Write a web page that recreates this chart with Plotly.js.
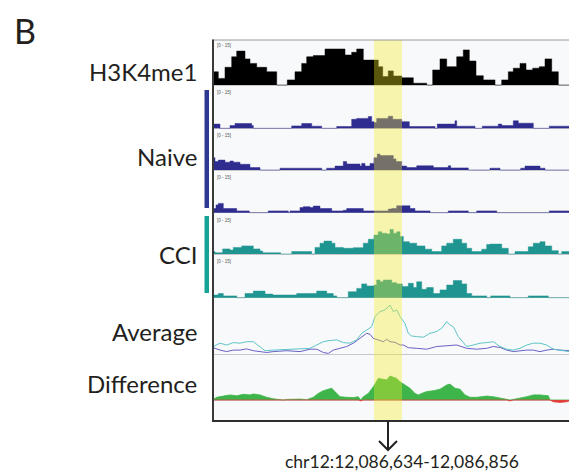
<!DOCTYPE html>
<html><head><meta charset="utf-8">
<script src="https://cdn.plot.ly/plotly-3.0.1.min.js"></script>
<style>html,body{margin:0;padding:0;background:#fff}#chart{width:569px;height:475px}</style>
</head><body><div id="chart"></div>
<script>
// ---------- DATA (positions in screen bins along the locus, values in track units) ----------
const panelLetter = "B";
const trackLabels = ["H3K4me1", "Naive", "CCI", "Average", "Difference"];
const scaleLabel = "[0 - 15]";
const regionLabel = "chr12:12,086,634-12,086,856";
const regionStart = 161;
const regionEnd = 189;
const locusEnd = 356;

const h3Pos = [0, 5.3, 12, 18.7, 23.7, 32, 37, 43.7, 53.7, 63.7, 74.3, 82, 88.7, 93.7, 100.3, 112, 132, 138.7, 143.7, 150.3, 165.3, 169.7, 175.3, 180.3, 188.7, 200.3, 213.7, 219.7, 227, 233.7, 243.7, 250.3, 256.3, 263, 270.3, 282, 288.7, 295.3, 300.3, 307, 313, 319.7, 326.3, 332, 338.7, 345.3];
const h3Val = [4.4, 2.2, 5.9, 9.4, 11.3, 8.7, 7.2, 5.9, 4.4, 0, 1.7, 4.4, 7.2, 9.4, 9.8, 12, 10, 10.9, 12, 8.3, 6.1, 2.8, 4.7, 3.0, 2.4, 0.6, 0, 5, 8.7, 6.1, 9.4, 11.7, 8.0, 3.1, 1.7, 0, 1.7, 4.4, 5.6, 7.2, 5, 5.6, 6.1, 8.7, 4.4, 0];

const naive1Pos = [0, 7, 17, 22, 38.7, 40.3, 78.7, 88.7, 98.7, 108.7, 123.7, 138.7, 143.7, 155.3, 158.7, 161, 163.7, 175.3, 179.7, 188.7, 196.3, 222, 224.3, 242, 243.7, 262, 269.3, 285.3, 288.7, 300.3, 305.3, 320.3, 336.3];
const naive1Val = [1.4, 0, 0.9, 1.6, 0.9, 0, 0.8, 1.6, 0.7, 0, 0.6, 3.0, 3.3, 3.9, 2.2, 1.9, 3.3, 4.0, 3.0, 2.2, 0.6, 0, 1.4, 2.5, 0.7, 0, 0.7, 1.4, 0.9, 2.5, 1.7, 0, 0.7];

const naive2Pos = [0, 2, 5.3, 12, 17, 20.3, 27, 37, 47, 67, 108.7, 113.7, 122, 130.3, 133.7, 147, 148.7, 152, 157, 161, 164.3, 167, 180.3, 183, 188.7, 193.7, 203.7, 220.3, 235.3, 237.7, 255.3, 277, 287, 307.7, 312, 327, 332];
const naive2Val = [4.1, 2.8, 3.3, 2.6, 3.0, 2.6, 1.9, 0.8, 0, 0.6, 0, 0.6, 1.3, 2.8, 2.0, 1.3, 2.2, 1.3, 2.2, 4.1, 5.3, 4.8, 3.7, 2.8, 1.3, 0.8, 1.4, 0.8, 1.4, 0.7, 0, 0.6, 0, 0.6, 1.3, 0.6, 0];

const naive3Pos = [0, 3, 5.3, 10.3, 23.7, 36.3, 55.3, 75.3, 77, 87, 90.3, 97, 100.3, 107, 118.7, 130.3, 133.7, 150.3, 175.3, 178.7, 183.7, 197, 202, 217, 235.3, 255.3, 263.7, 283.7, 336.3];
const naive3Val = [1.4, 2.6, 3.1, 1.4, 0.6, 0, 0.6, 0, 0.6, 1.7, 2.0, 1.7, 2.2, 1.4, 0.6, 0.8, 1.4, 0.6, 1.2, 1.4, 2.3, 1.4, 0.6, 0, 0.6, 0, 0.6, 0, 0.6];

const cci1Pos = [0, 2, 9.7, 17, 20.3, 28.7, 40.3, 47, 49.7, 67.7, 78.7, 98.7, 102, 107, 111, 118.7, 122, 130.3, 140.3, 150.3, 155.3, 161, 165.3, 168.7, 173.7, 177, 180.3, 183.7, 187, 190.3, 196.3, 203.7, 212, 218.7, 228.7, 233.7, 240.3, 248.7, 253.7, 258.7, 268.7, 273.7, 277, 288.7, 295.3, 302, 315.3, 320.3, 327, 332, 338.7, 345.3, 348.7];
const cci1Val = [0.8, 0.4, 1.7, 1.3, 2.2, 2.7, 1.7, 1.0, 0.4, 0, 0.8, 0, 2.2, 3.6, 4.3, 3.6, 2.2, 1.9, 2.1, 3.6, 4.9, 6.3, 7.4, 6.9, 6.7, 8.2, 6.9, 7.4, 5.8, 4.1, 3.6, 2.7, 1.6, 0.8, 2.7, 3.6, 4.9, 3.6, 1.9, 0.8, 1.6, 3.2, 3.3, 1.9, 0, 0.8, 2.4, 3.6, 4.1, 2.7, 1.1, 0, 0.8];

const cci2Pos = [0, 5.3, 10.3, 23.7, 32, 40.3, 52, 59.7, 83.7, 103.7, 113.7, 120.3, 123.7, 135.3, 143.7, 148.7, 153.7, 161, 163.7, 167, 170.3, 178.7, 183.7, 189.3, 195.3, 200.3, 203.7, 208.7, 213.7, 220.3, 227, 233.7, 240.3, 248.7, 253.7, 258.7, 273.7, 277.7, 297, 315.3, 335.3];
const cci2Val = [0.9, 1.4, 0.6, 0, 1.4, 2.2, 1.2, 0.9, 1.4, 2.2, 1.4, 0.6, 0, 2.0, 3.1, 4.6, 3.9, 4.2, 5.9, 5.3, 5.9, 5.0, 4.6, 3.7, 4.8, 3.4, 5.3, 2.8, 3.4, 1.4, 2.6, 4.2, 5.7, 4.6, 1.4, 0.6, 0, 0.6, 0, 0.6, 0];

const avgCciPos = [0.3, 7, 13.7, 20.3, 27, 33.7, 40.3, 47, 52, 60.3, 73.7, 87, 97, 103.7, 110.3, 117, 123.7, 130.3, 137, 143.7, 148.7, 153.7, 158.7, 162, 167, 172, 177, 180.3, 183.7, 187, 192, 195.3, 198.7, 203.7, 210.3, 217, 223.7, 228.7, 233.7, 237, 240.3, 245.3, 250.3, 253.7, 260.3, 267, 273.7, 280.3, 287, 293.7, 300.3, 307, 313.7, 320.3, 327, 333.7, 340.3, 347, 356];
const avgCciVal = [2.6, 3.7, 3.1, 3.9, 3.7, 4.2, 4.2, 2.6, 1.2, 1.4, 1.7, 2.0, 2.0, 3.1, 4.2, 4.6, 4.8, 3.9, 3.7, 4.8, 7.0, 8.1, 9.2, 12.6, 14.2, 14.8, 16.4, 14.2, 14.8, 12.6, 10.3, 7.0, 6.1, 5.9, 5.7, 7.0, 7.6, 8.7, 10.9, 9.8, 9.2, 5.9, 3.7, 2.6, 3.1, 3.7, 3.9, 4.2, 2.6, 1.7, 1.4, 2.0, 3.1, 3.7, 3.7, 3.1, 1.7, 1.4, 0.9];

const avgNaivePos = [0.3, 7, 13.7, 20.3, 27, 33.7, 40.3, 47, 53.7, 60.3, 73.7, 87, 97, 103.7, 110.3, 115.3, 120.3, 127, 133.7, 140.3, 147, 153.7, 157, 160.3, 165.3, 170.3, 173.7, 177, 182, 187, 190.3, 195.3, 203.7, 213.7, 223.7, 233.7, 243.7, 253.7, 263.7, 273.7, 280.3, 287, 293.7, 300.3, 307, 313.7, 320.3, 327, 333.7, 340.3, 347, 356];
const avgNaiveVal = [2.2, 1.4, 0.9, 1.4, 1.4, 1.8, 1.2, 0.9, 0.6, 0.9, 1.2, 0.9, 1.7, 1.7, 0.6, 0.3, 1.4, 2.0, 2.6, 3.7, 5.3, 7.0, 6.7, 5.3, 4.8, 4.2, 5.0, 4.2, 4.0, 3.1, 3.1, 2.2, 2.0, 1.7, 2.6, 2.9, 3.1, 2.0, 1.7, 2.0, 2.6, 2.3, 1.4, 0.9, 1.2, 1.4, 1.4, 0.9, 1.4, 1.7, 1.4, 1.2];

const diffPos = [0.3, 3.7, 10.3, 17, 23.7, 30.3, 37, 40.3, 47, 53.7, 60.3, 67, 70.3, 73.7, 80.3, 87, 93.7, 100.3, 105.3, 110.3, 115.3, 118.7, 122, 127, 133.7, 140.3, 145.3, 147.7, 150.3, 155.3, 160.3, 165.3, 170.3, 173.7, 177, 180.3, 183.7, 187, 192, 197, 202, 205.3, 208.7, 213.7, 220.3, 227, 233.7, 237, 242, 247, 252, 257, 263.7, 273.7, 280.3, 287, 293.7, 297, 300.3, 307, 313.7, 320.3, 327, 335.3, 337, 340.3, 347, 353.7, 356];
const diffVal = [0.2, 0.9, 1.3, 1.7, 1.4, 1.9, 1.7, 2.0, 1.7, 0.9, 0.4, 0.2, -0.2, 0.2, 0.3, 0.3, 0.1, 0.9, 2.2, 3.1, 3.6, 3.9, 2.8, 1.1, 0.9, 0.8, 1.1, -0.3, 1.1, 2.2, 4.4, 7.2, 6.9, 6.7, 8.0, 7.6, 7.2, 6.1, 5.0, 3.9, 2.2, 1.7, 2.2, 2.8, 3.1, 3.6, 5.0, 5.3, 3.9, 3.6, 1.7, 0.9, 0.9, 1.3, 1.1, 0.6, 0.3, -0.3, 0.2, 0.6, 1.1, 1.7, 1.7, 1.4, 0, -0.6, -0.8, -0.6, -0.3];

// ---------- STYLE / GEOMETRY ----------
const W = 569, H = 475, PX_PER_UNIT = 3, PANEL_LEFT = 213;
const fx = p => p / W, fy = p => 1 - p / H;
const C = {black: '#000000', naive: '#2e2d8f', cci: '#1e9591', avgCci: '#5ec5c8', avgNaive: '#6a5fc6',
  diffPos: '#3db54a', diffNeg: '#e0403a', text: '#231f20'};
// track geometry in px: top, baseline, bottom
const tracks = [
  {top: 40, base: 85, bottom: 86.5},
  {top: 86.5, base: 128.3, bottom: 130},
  {top: 130, base: 170, bottom: 172},
  {top: 172, base: 212.7, bottom: 214.5},
  {top: 214.5, base: 254, bottom: 256},
  {top: 256, base: 297.7, bottom: 299.5},
  {top: 299.5, base: 354.3, bottom: 356},
  {top: 356, base: 400, bottom: 421}
];

const layout = {
  width: W, height: H, margin: {l: 0, r: 0, t: 0, b: 0},
  paper_bgcolor: '#ffffff', plot_bgcolor: '#f8f9fa', showlegend: false,
  font: {family: 'Lato, "Open Sans", sans-serif', color: C.text},
  xaxis: {domain: [fx(PANEL_LEFT), 1], range: [0, locusEnd], anchor: 'y8', showticklabels: false,
    showgrid: false, zeroline: false, showline: false, ticks: '', fixedrange: true},
  shapes: [], annotations: []
};
tracks.forEach((t, i) => {
  const key = i === 0 ? 'yaxis' : 'yaxis' + (i + 1);
  layout[key] = {domain: [fy(t.bottom), fy(t.top)],
    range: [-(t.bottom - t.base) / PX_PER_UNIT, (t.base - t.top) / PX_PER_UNIT],
    anchor: 'x', showticklabels: false, showgrid: false, ticks: '', showline: false,
    zeroline: true, zerolinecolor: '#c8c8cc', zerolinewidth: 1, fixedrange: true};
});

function stepTrace(pos, val, axis, color) {
  return {x: pos.concat([locusEnd]), y: val.concat([val[val.length - 1]]), yaxis: axis,
    type: 'scatter', mode: 'lines', line: {shape: 'hv', width: 0.5, color: color},
    fill: 'tozeroy', fillcolor: color, hoverinfo: 'skip'};
}
const traces = [
  stepTrace(h3Pos, h3Val, 'y', C.black),
  stepTrace(naive1Pos, naive1Val, 'y2', C.naive),
  stepTrace(naive2Pos, naive2Val, 'y3', C.naive),
  stepTrace(naive3Pos, naive3Val, 'y4', C.naive),
  stepTrace(cci1Pos, cci1Val, 'y5', C.cci),
  stepTrace(cci2Pos, cci2Val, 'y6', C.cci),
  {x: avgNaivePos, y: avgNaiveVal, yaxis: 'y7', type: 'scatter', mode: 'lines', line: {color: C.avgNaive, width: 1}, hoverinfo: 'skip'},
  {x: avgCciPos, y: avgCciVal, yaxis: 'y7', type: 'scatter', mode: 'lines', line: {color: C.avgCci, width: 1}, hoverinfo: 'skip'},
  {x: diffPos, y: diffVal.map(v => Math.max(v, 0)), yaxis: 'y8', type: 'scatter', mode: 'lines',
    line: {color: C.diffPos, width: 0.8}, fill: 'tozeroy', fillcolor: C.diffPos, hoverinfo: 'skip'},
  {x: diffPos, y: diffVal.map(v => Math.min(v, 0)), yaxis: 'y8', type: 'scatter', mode: 'lines',
    line: {color: C.diffNeg, width: 0.8}, fill: 'tozeroy', fillcolor: C.diffNeg, hoverinfo: 'skip'}
];

// highlight band
layout.shapes.push({type: 'rect', xref: 'x', yref: 'paper', x0: regionStart, x1: regionEnd,
  y0: fy(421), y1: fy(40), fillcolor: 'rgba(248,235,36,0.36)', line: {width: 0}, layer: 'above'});
// frame
layout.shapes.push({type: 'line', xref: 'paper', yref: 'paper', x0: fx(PANEL_LEFT), x1: 1, y0: fy(40), y1: fy(40), line: {color: '#9a9a9a', width: 1}, layer: 'above'});
layout.shapes.push({type: 'line', xref: 'paper', yref: 'paper', x0: fx(PANEL_LEFT), x1: fx(PANEL_LEFT), y0: fy(422), y1: fy(39.5), line: {color: '#3a3a3a', width: 2}, layer: 'above'});
layout.shapes.push({type: 'line', xref: 'paper', yref: 'paper', x0: fx(PANEL_LEFT - 1), x1: 1, y0: fy(421), y1: fy(421), line: {color: '#2e2e2e', width: 2}, layer: 'above'});
// group bars
layout.shapes.push({type: 'rect', xref: 'paper', yref: 'paper', x0: fx(204.5), x1: fx(209), y0: fy(208), y1: fy(90), fillcolor: '#2c3a92', line: {width: 0}});
layout.shapes.push({type: 'rect', xref: 'paper', yref: 'paper', x0: fx(204.5), x1: fx(209), y0: fy(293), y1: fy(216), fillcolor: '#16a396', line: {width: 0}});
// arrow at region centre
const mid = (regionStart + regionEnd) / 2;
layout.shapes.push({type: 'line', xref: 'x', yref: 'paper', x0: mid, x1: mid, y0: fy(421), y1: fy(450), line: {color: '#222', width: 2}});
layout.shapes.push({type: 'path', xref: 'x', yref: 'paper',
  path: `M ${mid - 9} ${fy(441)} L ${mid} ${fy(450)} L ${mid + 9} ${fy(441)}`, line: {color: '#222', width: 2}});

// scale labels
tracks.slice(0, 6).forEach(t => {
  layout.annotations.push({xref: 'paper', yref: 'paper', x: fx(215), y: fy(t.top + 1), xanchor: 'left', yanchor: 'top',
    text: scaleLabel, showarrow: false, font: {size: 4.5, color: '#555', family: 'Liberation Sans, Arial'}});
});
// track labels
const labelY = [71, 156.5, 254.5, 331.5, 383.5];
trackLabels.forEach((s, i) => {
  layout.annotations.push({xref: 'paper', yref: 'paper', x: fx(199), y: fy(labelY[i]), xanchor: 'right', yanchor: 'middle',
    text: s, showarrow: false, font: {size: 24, color: C.text}});
});
layout.annotations.push({xref: 'paper', yref: 'paper', x: fx(12), y: fy(31), xanchor: 'left', yanchor: 'middle',
  text: panelLetter, showarrow: false, font: {size: 34, color: C.text}});
layout.annotations.push({xref: 'paper', yref: 'paper', x: fx(402), y: fy(461), xanchor: 'center', yanchor: 'middle',
  text: regionLabel, showarrow: false, font: {size: 17.5, color: C.text}});

Plotly.newPlot('chart', traces, layout, {displayModeBar: false, staticPlot: true});
</script></body></html>
